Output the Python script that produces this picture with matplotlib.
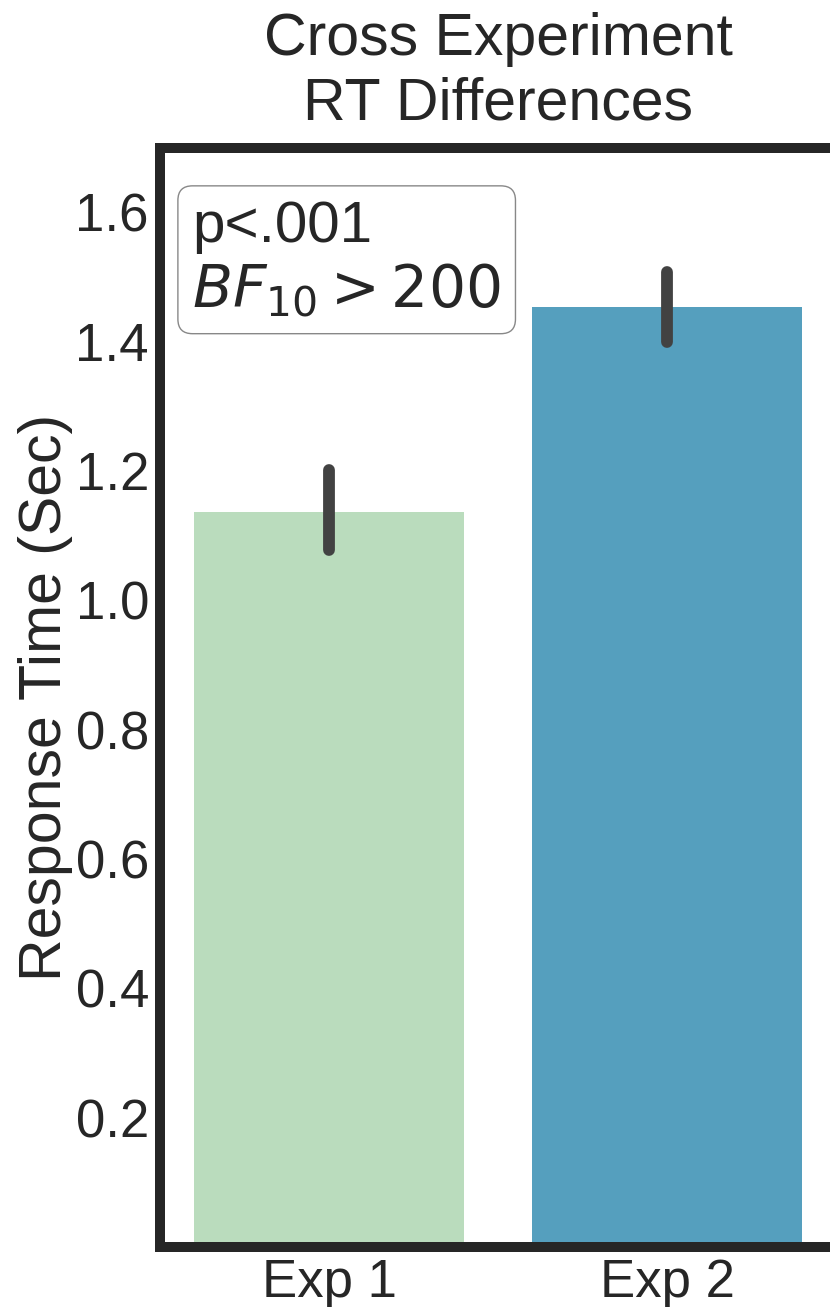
import matplotlib
matplotlib.use("Agg")
import matplotlib.pyplot as plt

# data
experiments = ["Exp 1", "Exp 2"]
mean_rt = [1.137, 1.453]
ci_low = [1.077, 1.400]
ci_high = [1.201, 1.507]
bar_colors = ["#badcbd", "#559fbe"]
yticks = [0.2, 0.4, 0.6, 0.8, 1.0, 1.2, 1.4, 1.6]

plt.rcParams["font.family"] = ["Liberation Sans", "DejaVu Sans"]
plt.rcParams["mathtext.fontset"] = "dejavusans"
ink = "#262626"

fig = plt.figure(figsize=(8.3, 13.07), dpi=100)
ax = fig.add_axes([0.1928, 0.0459, 0.8145, 0.8412])

x = list(range(len(experiments)))
ax.bar(x, mean_rt, width=0.8, color=bar_colors, zorder=1)
for xi, lo, hi in zip(x, ci_low, ci_high):
    ax.plot([xi, xi], [lo, hi], color="#424242", lw=8.5,
            solid_capstyle="round", zorder=3)

ax.set_xlim(-0.5, 1.5)
ax.set_ylim(0, 1.7)
ax.set_xticks(x)
ax.set_xticklabels(experiments)
ax.set_yticks(yticks)
ax.set_yticklabels([f"{t:.1f}" for t in yticks])
ax.tick_params(axis="both", length=0, labelsize=38, colors=ink, pad=8)

for side in ["left", "bottom", "top", "right"]:
    ax.spines[side].set_linewidth(7.2)
    ax.spines[side].set_color(ink)

ax.set_ylabel("Response Time (Sec)", fontsize=42.5, color=ink, labelpad=2)
ax.set_title("Cross Experiment\nRT Differences", fontsize=42.5, color=ink,
             pad=20, linespacing=1.22)

ax.text(0.048, 0.952, "p<.001\n$BF_{10} > 200$", transform=ax.transAxes,
        fontsize=42, color=ink, va="top", ha="left", linespacing=1.15,
        bbox=dict(boxstyle="round,pad=0.25", facecolor="white",
                  edgecolor="#888888", linewidth=1))

fig.savefig("out.png", dpi=100)
